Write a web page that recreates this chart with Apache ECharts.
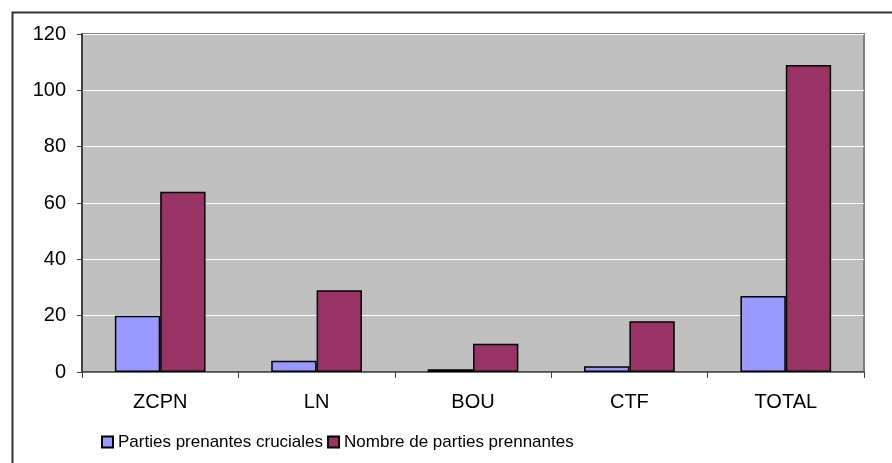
<!DOCTYPE html>
<html>
<head>
<meta charset="utf-8">
<script src="https://cdn.jsdelivr.net/npm/echarts@6/dist/echarts.min.js"></script>
<style>
html,body{margin:0;padding:0;background:#fff;}
#chart{width:892px;height:463px;}
</style>
</head>
<body>
<div id="chart"></div>
<script>
const categories = ['ZCPN', 'LN', 'BOU', 'CTF', 'TOTAL'];
const seriesNames = ['Parties prenantes cruciales', 'Nombre de parties prennantes'];
const crucial = [20, 4, 1, 2, 27];
const nombre = [64, 29, 10, 18, 109];
const yTicks = [0, 20, 40, 60, 80, 100, 120];

const font = '"Liberation Sans", Arial, sans-serif';
const chart = echarts.init(document.getElementById('chart'), null, {renderer: 'canvas'});
chart.setOption({
  animation: false,
  backgroundColor: '#ffffff',
  textStyle: {fontFamily: font, color: '#000'},
  graphic: [{
    type: 'rect', left: 10, top: 10, z: 100, silent: true,
    shape: {x: 0, y: 0, width: 900, height: 500},
    style: {fill: 'none', stroke: '#333333', lineWidth: 2}
  }],
  grid: {
    left: 82, right: 28, top: 34, bottom: 91,
    show: true, backgroundColor: '#C0C0C0', borderColor: '#808080', borderWidth: 2
  },
  legend: {
    left: 96, top: 426,
    itemWidth: 11, itemHeight: 11, itemGap: 4,
    textStyle: {fontFamily: font, fontSize: 17, color: '#000', lineHeight: 22},
    data: seriesNames.map(n => ({name: n, icon: 'rect'}))
  },
  xAxis: {
    type: 'category',
    data: categories,
    axisLine: {show: true, lineStyle: {color: '#404040', width: 1.5}},
    axisTick: {show: true, alignWithLabel: false, length: 6, lineStyle: {color: '#404040'}},
    axisLabel: {fontFamily: font, fontSize: 20, color: '#000', margin: 20},
    splitLine: {show: false}
  },
  yAxis: {
    type: 'value',
    min: yTicks[0], max: yTicks[yTicks.length - 1], interval: 20,
    axisLine: {show: true, lineStyle: {color: '#404040', width: 2}},
    axisTick: {show: true, length: 5, lineStyle: {color: '#404040'}},
    axisLabel: {fontFamily: font, fontSize: 20, color: '#000', margin: 16},
    splitLine: {show: true, lineStyle: {color: '#ffffff', width: 1}}
  },
  series: [
    {
      name: seriesNames[0], type: 'bar', data: crucial,
      barGap: '0%', barCategoryGap: '42%',
      itemStyle: {color: '#9999FF', borderColor: '#000', borderWidth: 1.5}
    },
    {
      name: seriesNames[1], type: 'bar', data: nombre,
      barGap: '0%', barCategoryGap: '42%',
      itemStyle: {color: '#993366', borderColor: '#000', borderWidth: 1.5}
    }
  ]
});
</script>
</body>
</html>
